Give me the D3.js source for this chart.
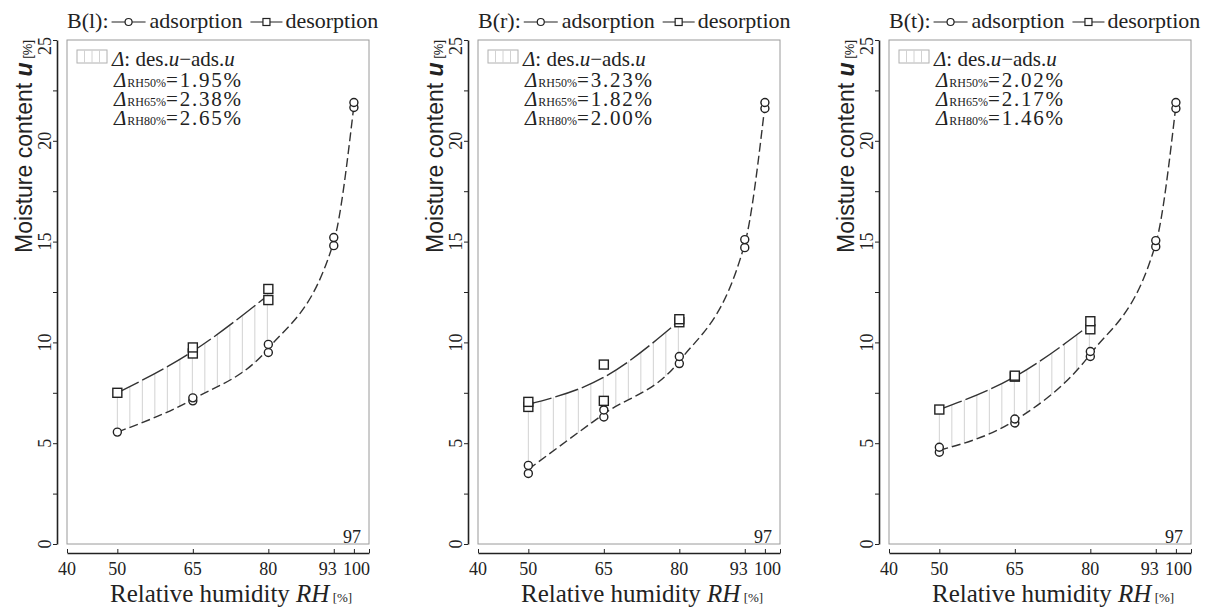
<!DOCTYPE html>
<html>
<head>
<meta charset="utf-8">
<script src="https://cdn.jsdelivr.net/npm/d3@7"></script>
<style>
  html, body { margin: 0; padding: 0; background: #fff; }
  svg { display: block; }
</style>
</head>
<body>
<svg id="chart" width="1218" height="608"></svg>
<script>
// ---- data -------------------------------------------------------------
const panelNames = ["B(l)", "B(r)", "B(t)"];

// relative humidity steps [%]
const rhAds = [50, 65, 80, 93, 97];
const rhDes = [50, 65, 80];

// fitted curves (mean moisture content u [%]) per specimen
const adsCurveL = [5.55, 7.18, 9.70, 15.00, 21.75];
const desCurveL = [7.50, 9.56, 12.35];
const adsCurveR = [3.70, 6.45, 9.07, 14.90, 21.75];
const desCurveR = [6.93, 8.27, 11.07];
const adsCurveT = [4.65, 6.13, 9.42, 14.90, 21.75];
const desCurveT = [6.67, 8.30, 10.88];

// individual measurements, one list per RH step
const adsPointsL = [[5.55], [7.10, 7.25], [9.50, 9.90], [14.80, 15.20], [21.65, 21.90]];
const desPointsL = [[7.50], [9.45, 9.75], [12.10, 12.65]];
const adsPointsR = [[3.50, 3.90], [6.30, 6.65], [8.95, 9.30], [14.70, 15.10], [21.60, 21.90]];
const desPointsR = [[6.80, 7.05], [7.10, 8.90], [11.00, 11.15]];
const adsPointsT = [[4.55, 4.80], [6.00, 6.20], [9.30, 9.55], [14.75, 15.05], [21.60, 21.90]];
const desPointsT = [[6.67], [8.30, 8.35], [10.65, 11.05]];

// axes
const rhDomain = [40, 100];
const uDomain = [0, 25];
const rhTickValues = [40, 50, 65, 80, 93, 97, 100];
const rhLabelValues = [40, 50, 65, 80, 93, 100];
const uTickValues = [0, 2.5, 5, 7.5, 10, 12.5, 15, 17.5, 20, 22.5, 25];
const uLabelValues = [0, 5, 10, 15, 20, 25];
const rhMarked = 97;
const deltaSteps = ["RH50%", "RH65%", "RH80%"];

const panels = [
  { name: panelNames[0], ads: adsCurveL, des: desCurveL, adsPts: adsPointsL, desPts: desPointsL },
  { name: panelNames[1], ads: adsCurveR, des: desCurveR, adsPts: adsPointsR, desPts: desPointsR },
  { name: panelNames[2], ads: adsCurveT, des: desCurveT, adsPts: adsPointsT, desPts: desPointsT }
];

// ---- drawing ----------------------------------------------------------
const SERIF = '"Liberation Serif","Times New Roman",serif';
const SANS = '"Liberation Sans",Arial,sans-serif';
const INK = "#222";
const svg = d3.select("#chart");

const panelOffset = [0, 411, 822];
const boxL = 67, boxR = 369, boxT = 40, boxB = 544;
const yAxisX = 57, xAxisY = 553;

function rich(sel, parts) {
  parts.forEach(p => {
    const ts = sel.append("tspan").text(p.t);
    if (p.it) ts.attr("font-style", "italic");
    if (p.bold) ts.attr("font-weight", "bold");
    if (p.fs) ts.attr("font-size", p.fs);
    if (p.ls) ts.attr("letter-spacing", p.ls);
    if (p.dx) ts.attr("dx", p.dx);
  });
  return sel;
}

// y value of a drawn curve at a given screen x (curve is monotone in x)
function curveYAt(node, px) {
  const L = node.getTotalLength();
  let lo = 0, hi = L;
  for (let k = 0; k < 40; k++) {
    const mid = (lo + hi) / 2;
    if (node.getPointAtLength(mid).x < px) lo = mid; else hi = mid;
  }
  return node.getPointAtLength((lo + hi) / 2).y;
}

panels.forEach((p, i) => {
  const ox = panelOffset[i];
  const g = svg.append("g");
  const x = d3.scaleLinear().domain(rhDomain).range([ox + boxL, ox + boxR]);
  const y = d3.scaleLinear().domain(uDomain).range([boxB, boxT]);

  // plot frame
  g.append("rect")
    .attr("x", ox + boxL).attr("y", boxT)
    .attr("width", boxR - boxL).attr("height", boxB - boxT)
    .attr("fill", "none").attr("stroke", "#9a9a9a").attr("stroke-width", 1);

  // y axis (detached, left of frame)
  const ya = g.append("g")
    .attr("transform", `translate(${ox + yAxisX},0)`)
    .call(d3.axisLeft(y).tickValues(uTickValues).tickSize(4).tickSizeOuter(0).tickFormat(""));
  ya.select(".domain").attr("stroke", INK).attr("stroke-width", 1.6);
  ya.selectAll(".tick line").attr("stroke", INK).attr("stroke-width", 1);

  g.selectAll(".ylab").data(uLabelValues).join("text")
    .attr("class", "ylab")
    .attr("transform", d => `translate(${ox + 51},${y(d) + (d === 25 ? 6 : 0)}) rotate(-90)`)
    .attr("text-anchor", "middle")
    .attr("font-family", SERIF).attr("font-size", 18).attr("fill", INK)
    .text(d => d);

  // x axis (detached, below frame)
  const xa = g.append("g")
    .attr("transform", `translate(0,${xAxisY})`)
    .call(d3.axisBottom(x).tickValues(rhTickValues).tickSizeInner(-4).tickSizeOuter(0).tickFormat(""));
  xa.select(".domain").attr("stroke", INK).attr("stroke-width", 1.6);
  xa.selectAll(".tick line").attr("stroke", INK).attr("stroke-width", 1);

  g.selectAll(".xlab").data(rhLabelValues).join("text")
    .attr("class", "xlab")
    .attr("x", d => x(d) + (d === 93 ? -6 : d === 100 ? 1 : 0))
    .attr("y", 575)
    .attr("text-anchor", d => d === 100 ? "end" : "middle")
    .attr("font-family", SERIF).attr("font-size", 18).attr("fill", INK)
    .text(d => d);

  g.append("text")
    .attr("x", x(rhMarked) - 2).attr("y", 543)
    .attr("text-anchor", "middle")
    .attr("font-family", SERIF).attr("font-size", 18).attr("fill", INK)
    .text(rhMarked);

  // axis titles
  rich(g.append("text")
    .attr("x", ox + 110).attr("y", 602)
    .attr("font-family", SERIF).attr("font-size", 25).attr("fill", INK),
    [{ t: "Relative humidity " }, { t: "RH", it: true }, { t: " [%]", fs: 13 }]);

  rich(g.append("text")
    .attr("transform", `translate(${ox + 32},${boxT}) rotate(-90)`)
    .attr("text-anchor", "end")
    .attr("font-family", SANS).attr("font-size", 23).attr("fill", INK),
    [{ t: "Moisture content " }, { t: "u", it: true, bold: true }, { t: " [%]", fs: 13 }]);

  // curves
  const adsData = rhAds.map((r, k) => [r, p.ads[k]]);
  const desData = rhDes.map((r, k) => [r, p.des[k]]);
  const line = d3.line().x(d => x(d[0])).y(d => y(d[1])).curve(d3.curveMonotoneX);

  const hatchG = g.append("g");

  const adsPath = g.append("path").datum(adsData)
    .attr("d", line).attr("fill", "none")
    .attr("stroke", "#333").attr("stroke-width", 1.4)
    .attr("stroke-dasharray", "9,4");
  const desPath = g.append("path").datum(desData)
    .attr("d", line).attr("fill", "none")
    .attr("stroke", "#333").attr("stroke-width", 1.4)
    .attr("stroke-dasharray", "24,4");

  // difference hatching between desorption and adsorption curves
  const x0 = x(rhDes[0]), x1 = x(rhDes[rhDes.length - 1]);
  const hx = d3.range(x0, x1 + 0.01, 12.5);
  hatchG.selectAll("line").data(hx).join("line")
    .attr("x1", d => d).attr("x2", d => d)
    .attr("y1", d => curveYAt(adsPath.node(), d))
    .attr("y2", d => curveYAt(desPath.node(), d))
    .attr("stroke", "#d2d2d2").attr("stroke-width", 1);

  // measured points
  const adsFlat = p.adsPts.flatMap((vals, k) => vals.map(v => [rhAds[k], v]));
  const desFlat = p.desPts.flatMap((vals, k) => vals.map(v => [rhDes[k], v]));

  g.selectAll(".desPt").data(desFlat).join("rect")
    .attr("class", "desPt")
    .attr("x", d => x(d[0]) - 4.5).attr("y", d => y(d[1]) - 4.5)
    .attr("width", 9).attr("height", 9)
    .attr("fill", "#fff").attr("stroke", INK).attr("stroke-width", 1.4);

  g.selectAll(".adsPt").data(adsFlat).join("circle")
    .attr("class", "adsPt")
    .attr("cx", d => x(d[0])).attr("cy", d => y(d[1])).attr("r", 4)
    .attr("fill", "#fff").attr("stroke", INK).attr("stroke-width", 1.4);

  // legend inside the frame
  const lx = ox + 77;
  g.append("rect").attr("x", lx).attr("y", 50).attr("width", 30).attr("height", 13)
    .attr("fill", "none").attr("stroke", "#b0b0b0").attr("stroke-width", 1);
  g.selectAll(".lh").data(d3.range(lx + 7.5, lx + 30, 7.5)).join("line")
    .attr("class", "lh")
    .attr("x1", d => d).attr("x2", d => d).attr("y1", 50).attr("y2", 63)
    .attr("stroke", "#d2d2d2");

  rich(g.append("text").attr("x", ox + 112).attr("y", 66)
    .attr("font-family", SERIF).attr("font-size", 21).attr("fill", INK),
    [{ t: "Δ", it: true }, { t: ": des." }, { t: "u", it: true }, { t: "−ads." }, { t: "u", it: true }]);

  deltaSteps.forEach((s, k) => {
    const delta = (p.des[k] - p.ads[k]).toFixed(2);
    rich(g.append("text").attr("x", ox + 114).attr("y", 87 + k * 19)
      .attr("font-family", SERIF).attr("font-size", 21).attr("fill", INK),
      [{ t: "Δ", it: true }, { t: s, fs: 12, dx: 1 }, { t: "=" + delta + "%", ls: 1.8 }]);
  });

  // title with series key
  let cx = ox + 67;
  const ty = 28, symY = 22;
  const t1 = g.append("text").attr("x", cx).attr("y", ty)
    .attr("font-family", SERIF).attr("font-size", 22).attr("fill", INK).text(p.name + ":");
  cx += t1.node().getComputedTextLength() + 3;
  g.append("line").attr("x1", cx).attr("x2", cx + 34).attr("y1", symY).attr("y2", symY)
    .attr("stroke", INK).attr("stroke-width", 1.2);
  g.append("circle").attr("cx", cx + 17).attr("cy", symY).attr("r", 3.5)
    .attr("fill", "#fff").attr("stroke", INK).attr("stroke-width", 1.2);
  cx += 38;
  const t2 = g.append("text").attr("x", cx).attr("y", ty)
    .attr("font-family", SERIF).attr("font-size", 22).attr("fill", INK).text("adsorption");
  cx += t2.node().getComputedTextLength() + 8;
  g.append("line").attr("x1", cx).attr("x2", cx + 32).attr("y1", symY).attr("y2", symY)
    .attr("stroke", INK).attr("stroke-width", 1.2);
  g.append("rect").attr("x", cx + 12.5).attr("y", symY - 3.5).attr("width", 7).attr("height", 7)
    .attr("fill", "#fff").attr("stroke", INK).attr("stroke-width", 1.2);
  cx += 35;
  g.append("text").attr("x", cx).attr("y", ty)
    .attr("font-family", SERIF).attr("font-size", 22).attr("fill", INK).text("desorption");
});
</script>
</body>
</html>
